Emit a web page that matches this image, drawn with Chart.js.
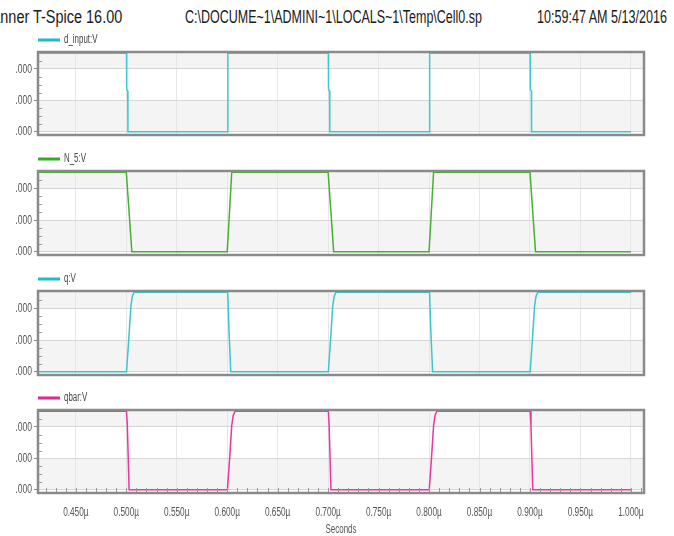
<!DOCTYPE html>
<html>
<head>
<meta charset="utf-8">
<script src="https://cdn.jsdelivr.net/npm/chart.js@4.4.1/dist/chart.umd.min.js"></script>
<style>
  html, body { margin: 0; padding: 0; background: #fff; }
  #page { position: relative; width: 674px; height: 536px; overflow: hidden; background: #fff; }
  .hdr { position: absolute; top: 7px; left: 0; font: 18px 'Liberation Sans', Arial, sans-serif; color: #1a1a1a;
         white-space: nowrap; transform-origin: 0 0; }
  canvas { position: absolute; left: 0; }
</style>
</head>
<body>
<div id="page">
  <div class="hdr" id="hTitle"><span id="hCut">Ta</span>nner T-Spice 16.00</div>
  <div class="hdr" id="hPath">C:\DOCUME~1\ADMINI~1\LOCALS~1\Temp\Cell0.sp</div>
  <div class="hdr" id="hTime">10:59:47 AM 5/13/2016</div>
  <canvas id="pane0" width="674" height="105" style="top:32px"></canvas>
  <canvas id="pane1" width="674" height="106" style="top:151px"></canvas>
  <canvas id="pane2" width="674" height="106" style="top:271px"></canvas>
  <canvas id="pane3" width="674" height="149" style="top:390px"></canvas>
</div>
<script>
// Transient results, time in microseconds, node voltages in volts.
const dInputTime  = [0.4125, 0.5002, 0.5004, 0.5014, 0.5016, 0.6003, 0.6006, 0.7002, 0.7004, 0.7014, 0.7016, 0.8003, 0.8006, 0.9002, 0.9004, 0.9014, 0.9016, 1.0];
const dInputVolts = [5, 5, 2.7, 2.6, 0, 0, 5, 5, 2.7, 2.6, 0, 0, 5, 5, 2.7, 2.6, 0, 0];

const n5Time  = [0.4125, 0.5, 0.5055, 0.6, 0.6045, 0.7, 0.7055, 0.8, 0.8045, 0.9, 0.9055, 1.0];
const n5Volts = [5, 5, 0, 0, 5, 5, 0, 0, 5, 5, 0, 0];

const qTime  = [0.4125, 0.5002, 0.5025, 0.5045, 0.5060, 0.5078, 0.6005, 0.6015, 0.6035, 0.7002, 0.7025, 0.7045, 0.7060, 0.7078, 0.8005, 0.8015, 0.8035, 0.9002, 0.9025, 0.9045, 0.9060, 0.9078, 1.0];
const qVolts = [0, 0, 2.1, 4.1, 4.75, 5, 5, 3, 0, 0, 2.1, 4.1, 4.75, 5, 5, 3, 0, 0, 2.1, 4.1, 4.75, 5, 5];

const qbarTime  = [0.4125, 0.5002, 0.5010, 0.5028, 0.6002, 0.6025, 0.6045, 0.6060, 0.6078, 0.7002, 0.7010, 0.7028, 0.8002, 0.8025, 0.8045, 0.8060, 0.8078, 0.9002, 0.9010, 0.9028, 1.0];
const qbarVolts = [5, 5, 4.1, 0, 0, 2.1, 4.1, 4.75, 5, 5, 4.1, 0, 0, 2.1, 4.1, 4.75, 5, 5, 4.1, 0, 0];

// Axes
const timeTicks  = [0.45, 0.5, 0.55, 0.6, 0.65, 0.7, 0.75, 0.8, 0.85, 0.9, 0.95, 1.0];
const timeMinor  = [0.42, 0.43, 0.44, 0.45, 0.46, 0.47, 0.48, 0.49, 0.5, 0.51, 0.52, 0.53, 0.54, 0.55, 0.56, 0.57, 0.58, 0.59,
                    0.6, 0.61, 0.62, 0.63, 0.64, 0.65, 0.66, 0.67, 0.68, 0.69, 0.7, 0.71, 0.72, 0.73, 0.74, 0.75, 0.76, 0.77,
                    0.78, 0.79, 0.8, 0.81, 0.82, 0.83, 0.84, 0.85, 0.86, 0.87, 0.88, 0.89, 0.9, 0.91, 0.92, 0.93, 0.94, 0.95,
                    0.96, 0.97, 0.98, 0.99, 1.0, 1.01];
const voltTicks  = [0, 2, 4];
const voltMinor  = [0.5, 1, 1.5, 2.5, 3, 3.5, 4.5];
const voltBands  = [[4, 5.08], [0, 2]];   // shaded strips between major ticks

const FONT = "'Liberation Sans', Arial, sans-serif";
const X_MIN = 0.4125, X_MAX = 1.013, Y_MIN = -0.2, Y_MAX = 5.08;
const TEXT_SQUEEZE = 0.66;   // the viewer draws its labels in a condensed face

// Header strings, stretched horizontally to fill their slots.
function fitHeader(el, x0, x1, cutEl) {
  const w = el.getBoundingClientRect().width;
  const c = cutEl ? cutEl.getBoundingClientRect().width : 0;
  const s = (x1 - x0) / (w - c);
  el.style.transform = 'scaleX(' + s + ')';
  el.style.left = (x0 - c * s) + 'px';
}
fitHeader(document.getElementById('hTitle'), 0, 122, document.getElementById('hCut'));
fitHeader(document.getElementById('hPath'), 185, 482);
fitHeader(document.getElementById('hTime'), 537, 667);

// Condensed text on a canvas: squeeze each string about its anchor point.
function condenseCanvasText(canvas, k) {
  const ctx = canvas.getContext('2d');
  const nativeFill = ctx.fillText;
  ctx.fillText = function (text, x, y, maxWidth) {
    this.save();
    this.translate(x, y);
    this.scale(k, 1);
    if (maxWidth === undefined || maxWidth === null) nativeFill.call(this, text, 0, 0);
    else nativeFill.call(this, text, 0, 0, maxWidth / k);
    this.restore();
  };
}

// Pane furniture: shaded strips, frame, inner minor ticks, legend key, label gutter.
const paneDecor = {
  id: 'paneDecor',
  beforeDraw(chart) {
    const { ctx, chartArea: a, scales: { y } } = chart;
    ctx.save();
    ctx.fillStyle = '#f4f4f4';
    voltBands.forEach(([lo, hi]) => {
      const top = y.getPixelForValue(Math.min(hi, Y_MAX));
      const bot = y.getPixelForValue(lo);
      ctx.fillRect(a.left, top, a.right - a.left, bot - top);
    });
    ctx.restore();
  },
  afterDraw(chart, args, opts) {
    const { ctx, chartArea: a, scales: { x, y } } = chart;
    const ds = chart.data.datasets[0];
    ctx.save();
    // minor ticks, pointing inward
    ctx.strokeStyle = '#9a9a9a';
    ctx.lineWidth = 1;
    ctx.beginPath();
    voltMinor.forEach(v => {
      const py = Math.round(y.getPixelForValue(v)) + 0.5;
      ctx.moveTo(a.left, py);
      ctx.lineTo(a.left + 4, py);
    });
    if (opts.timeMinor) {
      timeMinor.forEach(t => {
        const px = Math.round(x.getPixelForValue(t)) + 0.5;
        ctx.moveTo(px, a.bottom);
        ctx.lineTo(px, a.bottom - 5);
      });
    }
    ctx.stroke();
    // frame
    ctx.strokeStyle = '#8a8a8a';
    ctx.lineWidth = 2.5;
    ctx.strokeRect(a.left, a.top, a.right - a.left, a.bottom - a.top);
    // legend key
    ctx.fillStyle = opts.keyColor || ds.borderColor;
    ctx.fillRect(a.left, a.top - 13.5, 22, 3);
    ctx.fillStyle = '#444';
    ctx.font = '12px ' + FONT;
    ctx.textBaseline = 'middle';
    ctx.textAlign = 'left';
    ctx.fillText(ds.label, a.left + 26, a.top - 12);
    // the value-label gutter is narrower than the labels
    ctx.fillStyle = '#fff';
    ctx.fillRect(0, a.top - 2, 15, a.bottom - a.top + 10);
    ctx.restore();
  }
};

function makePane(id, label, color, keyColor, times, volts, showTime) {
  const canvas = document.getElementById(id);
  condenseCanvasText(canvas, TEXT_SQUEEZE);
  const points = times.map((t, i) => ({ x: t, y: volts[i] }));
  return new Chart(canvas, {
    type: 'line',
    data: {
      datasets: [{
        label: label,
        data: points,
        borderColor: color,
        backgroundColor: color,
        borderWidth: 1.5,
        pointRadius: 0,
        tension: 0,
        fill: false
      }]
    },
    options: {
      responsive: false,
      animation: false,
      events: [],
      layout: { padding: { left: 0, right: 30, top: 20, bottom: 2 } },
      plugins: {
        legend: { display: false },
        tooltip: { enabled: false },
        paneDecor: { timeMinor: showTime, keyColor: keyColor }
      },
      scales: {
        x: {
          type: 'linear',
          min: X_MIN,
          max: X_MAX,
          afterBuildTicks: s => { s.ticks = timeTicks.map(v => ({ value: v })); },
          afterFit: s => { s.height = showTime ? 44 : 0; s.paddingLeft = 0; s.paddingRight = 0; },
          grid: { color: '#e6e6e6', drawTicks: false },
          border: { display: false },
          ticks: {
            display: showTime,
            padding: 12,
            autoSkip: false,
            maxRotation: 0,
            color: '#555',
            font: { family: FONT, size: 12.5 },
            callback: v => v.toFixed(3) + 'µ'
          },
          title: {
            display: showTime,
            text: 'Seconds',
            color: '#555',
            font: { family: FONT, size: 12 },
            padding: { top: 0, bottom: 0 }
          }
        },
        y: {
          min: Y_MIN,
          max: Y_MAX,
          afterBuildTicks: s => { s.ticks = voltTicks.map(v => ({ value: v })); },
          afterFit: s => { s.width = 38; s.paddingTop = 0; s.paddingBottom = 0; },
          grid: { color: '#d6d6d6', tickLength: 4, tickColor: '#888' },
          border: { display: false },
          ticks: {
            padding: 2,
            color: '#555',
            font: { family: FONT, size: 13 },
            callback: v => v.toFixed(3)
          }
        }
      }
    },
    plugins: [paneDecor]
  });
}

makePane('pane0', 'd_input:V', '#3cc9cf', '#1fbcc4', dInputTime, dInputVolts, false);
makePane('pane1', 'N_5:V', '#46b030', '#3aa82a', n5Time, n5Volts, false);
makePane('pane2', 'q:V', '#3cc6cb', '#1fbcc4', qTime, qVolts, false);
makePane('pane3', 'qbar:V', '#e8389c', '#e0288f', qbarTime, qbarVolts, true);
</script>
</body>
</html>
